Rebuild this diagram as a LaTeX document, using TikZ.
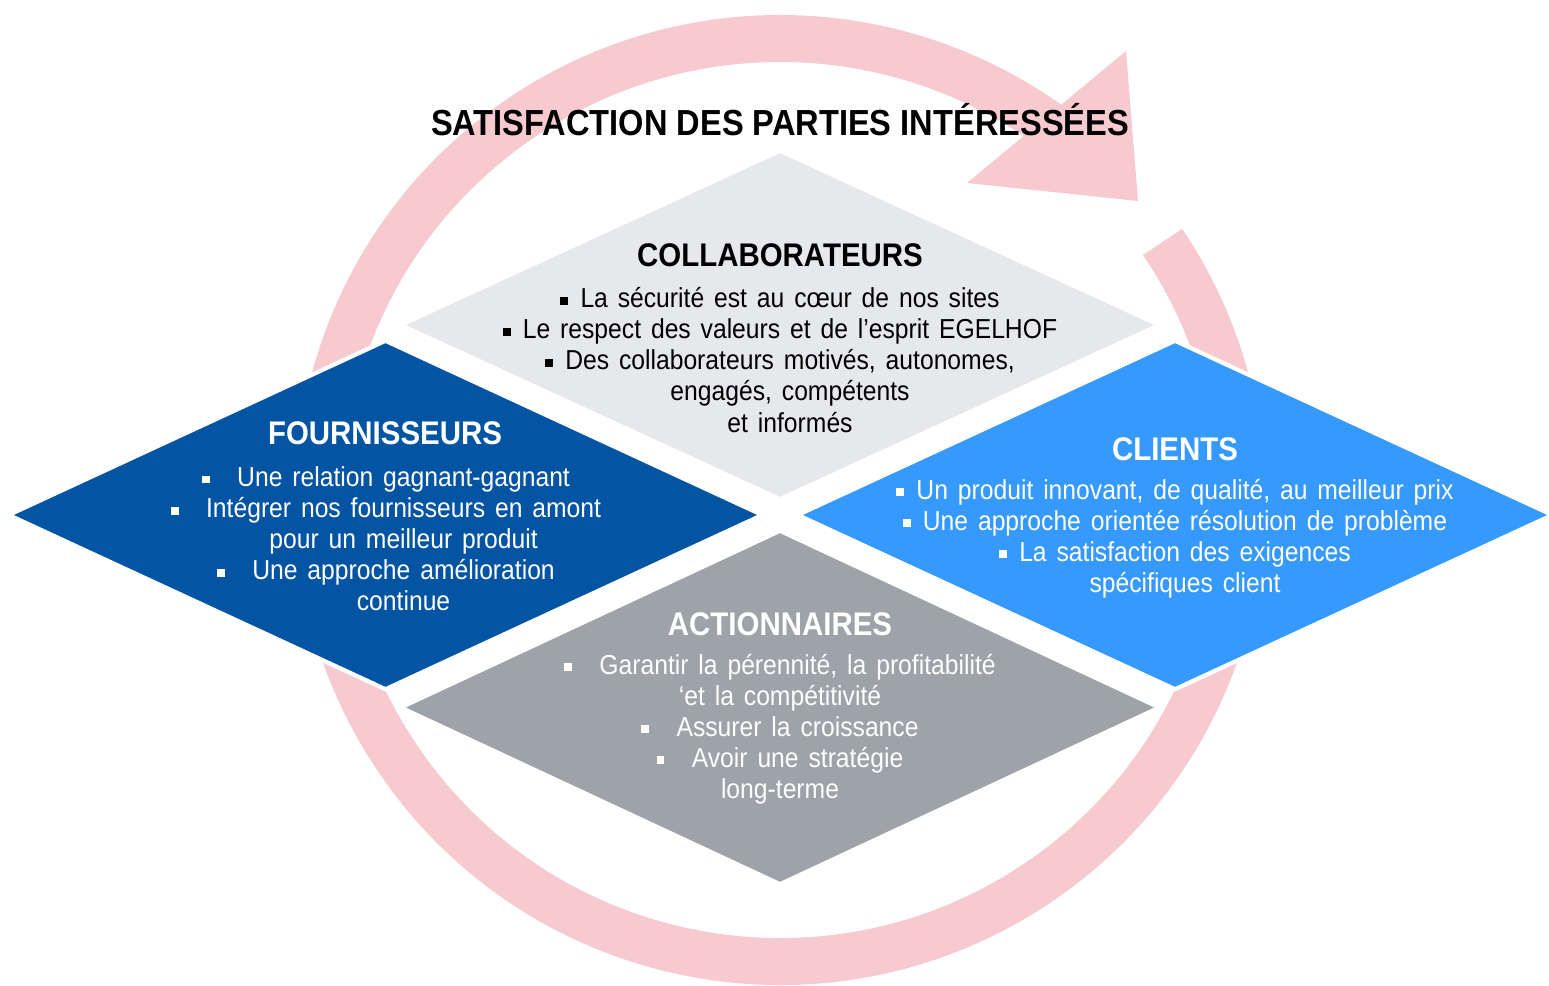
\documentclass[tikz,border=0pt]{standalone}
\usepackage{fontspec}
\setmainfont{Liberation Sans}
\newfontfamily\bodyfont[FakeStretch=0.9]{Liberation Sans}
\newfontfamily\capsfont[FakeStretch=0.9]{Liberation Sans}
\usetikzlibrary{shapes.geometric}

\definecolor{ringpink}{RGB}{247,202,208}
\definecolor{collabgray}{RGB}{230,232,235}
\definecolor{fournblue}{RGB}{4,84,164}
\definecolor{clientblue}{RGB}{53,153,253}
\definecolor{actiongray}{RGB}{158,163,169}

\newcommand\sqb{\rule[0.12em]{0.28em}{0.28em}}
\newcommand\itm{\sqb\hspace{0.45em}}
\newcommand\itmw{\sqb\hspace{1em}}
\newcommand\widespace{\spaceskip=0.36em plus 0.1em minus 0.05em\relax}

\tikzset{
  petal/.style={diamond, minimum width=7.6cm, minimum height=3.5cm, inner sep=0pt, draw=white, line width=1.2pt},
  head/.style={font=\capsfont\bfseries\fontsize{9.3}{10}\selectfont},
  body/.style={align=center, font=\bodyfont\fontsize{7.8}{8.82}\selectfont\widespace},
}

\begin{document}
\begin{tikzpicture}[x=0.01cm, y=0.01cm]
\useasboundingbox (0,0) rectangle (1549,-985);

%draw the ring and its arrow head
\draw[ringpink, line width=0.47cm] (780,-500) ++(34:461.5) arc[start angle=34, end angle=-307, radius=461.5];
\fill[ringpink] (1126,-51) -- (967,-183) -- (1138,-201) -- cycle;

%draw the four diamonds
\node[petal, fill=collabgray] (collab) at (780,-325) {};
\node[petal, fill=fournblue, minimum width=7.55cm] (fourn) at (385.5,-515) {};
\node[petal, fill=clientblue, minimum width=7.56cm] (client) at (1175,-515) {};
\node[petal, fill=actiongray, minimum height=3.55cm] (action) at (780,-707.5) {};

%title
\node[font=\capsfont\bfseries\fontsize{10.3}{11}\selectfont] (title) at (780,-120) {SATISFACTION DES PARTIES INTÉRESSÉES};

%collaborateurs
\node[head] (collab-head) at (780,-255) {COLLABORATEURS};
\node[body] (collab-text) at (780,-360) {\itm La sécurité est au cœur de nos sites\\
  \itm Le respect des valeurs et de l’esprit EGELHOF\\
  \itm Des collaborateurs motivés, autonomes,\\
  \hphantom{\itm}engagés, compétents\\
  \hphantom{\itm}et informés};

%fournisseurs
\node[head, white] (fourn-head) at (385,-433) {FOURNISSEURS};
\node[body, white] (fourn-text) at (386,-539) {\itmw Une relation gagnant-gagnant\\
  \itmw Intégrer nos fournisseurs en amont\\
  \hphantom{\itmw}pour un meilleur produit\\
  \itmw Une approche amélioration\\
  \hphantom{\itmw}continue};

%clients
\node[head, white] (client-head) at (1175,-449) {CLIENTS};
\node[body, white] (client-text) at (1175,-538.5) {\itm Un produit innovant, de qualité, au meilleur prix\\
  \itm Une approche orientée résolution de problème\\
  \itm La satisfaction des exigences\\
  \hphantom{\itm}spécifiques client};

%actionnaires
\node[head, white] (action-head) at (780,-624) {ACTIONNAIRES};
\node[body, white] (action-text) at (780,-729) {\itmw Garantir la pérennité, la profitabilité\\
  ‘et la compétitivité\\
  \itmw Assurer la croissance\\
  \itmw Avoir une stratégie\\
  long-terme};

\end{tikzpicture}
\end{document}
